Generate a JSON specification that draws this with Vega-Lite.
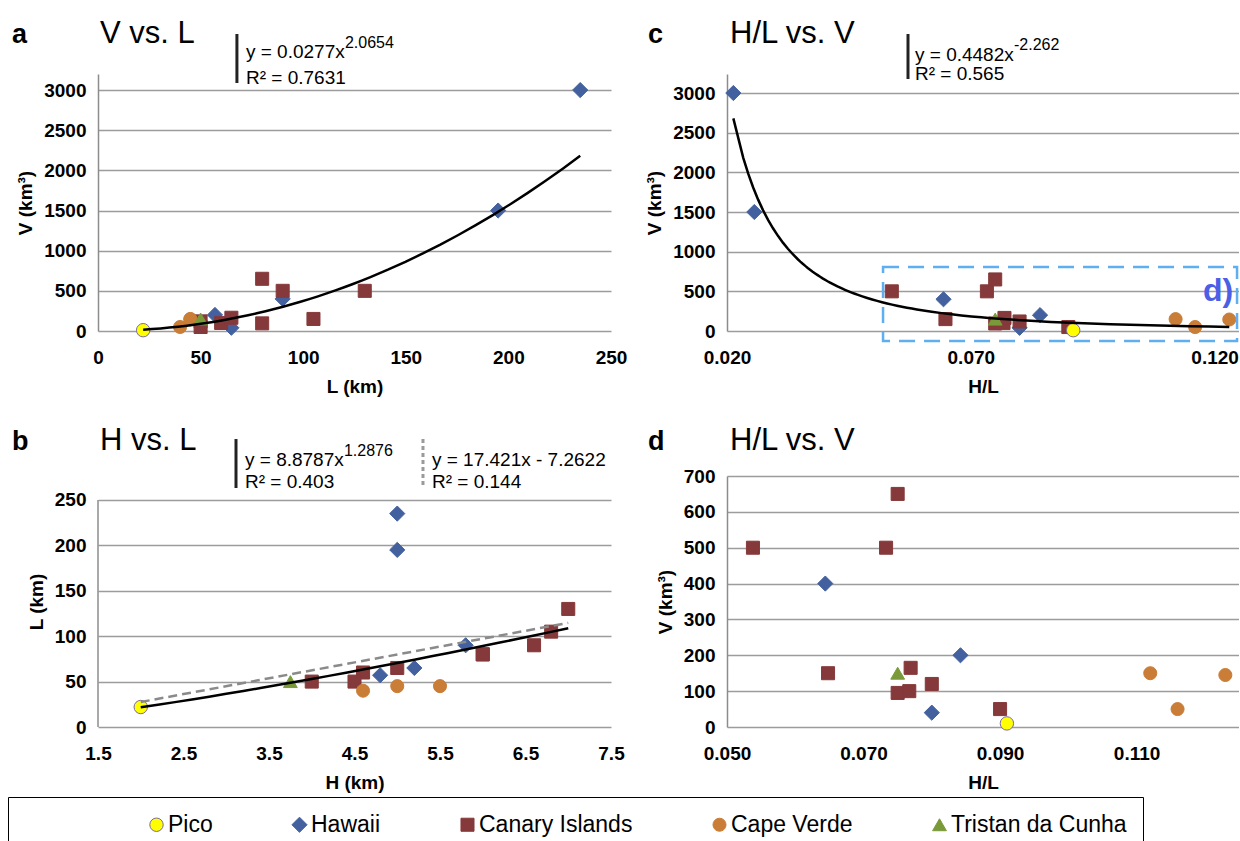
{
  "$schema": "https://vega.github.io/schema/vega-lite/v6.json",
  "autosize": {"type": "pad"},
  "padding": {"left": 7, "top": 17, "right": 0, "bottom": 0},
  "background": "white",
  "datasets": {
    "volcanoes": [
      {"series": "Hawaii", "H": 5.0, "L": 235, "V": 3000, "HL": 0.0213},
      {"series": "Hawaii", "H": 5.0, "L": 195, "V": 1500, "HL": 0.0256},
      {"series": "Hawaii", "H": 5.8, "L": 90, "V": 400, "HL": 0.0644},
      {"series": "Hawaii", "H": 5.2, "L": 65, "V": 40, "HL": 0.0800},
      {"series": "Hawaii", "H": 4.8, "L": 57, "V": 200, "HL": 0.0842},
      {"series": "Canary Islands", "H": 7.0, "L": 130, "V": 500, "HL": 0.0538},
      {"series": "Canary Islands", "H": 6.8, "L": 105, "V": 150, "HL": 0.0648},
      {"series": "Canary Islands", "H": 6.6, "L": 90, "V": 500, "HL": 0.0733},
      {"series": "Canary Islands", "H": 6.0, "L": 80, "V": 650, "HL": 0.0750},
      {"series": "Canary Islands", "H": 6.0, "L": 80, "V": 95, "HL": 0.0750},
      {"series": "Canary Islands", "H": 4.6, "L": 60, "V": 100, "HL": 0.0767},
      {"series": "Canary Islands", "H": 5.0, "L": 65, "V": 165, "HL": 0.0769},
      {"series": "Canary Islands", "H": 4.0, "L": 50, "V": 120, "HL": 0.0800},
      {"series": "Canary Islands", "H": 4.5, "L": 50, "V": 50, "HL": 0.0900},
      {"series": "Cape Verde", "H": 4.6, "L": 40, "V": 50, "HL": 0.1160},
      {"series": "Cape Verde", "H": 5.0, "L": 45, "V": 150, "HL": 0.1120},
      {"series": "Cape Verde", "H": 5.5, "L": 45, "V": 145, "HL": 0.1230},
      {"series": "Tristan da Cunha", "H": 3.75, "L": 50, "V": 150, "HL": 0.0750},
      {"series": "Pico", "H": 2.0, "L": 22, "V": 10, "HL": 0.0910}
    ]
  },
  "columns": 2,
  "bounds": "flush",
  "spacing": {"row": 145, "column": 116},
  "concat": [
    {
      "width": 513,
      "height": 257,
      "layer": [
        {
          "data": {"name": "volcanoes"},
          "mark": {"type": "point", "filled": true, "opacity": 1, "strokeWidth": 1},
          "encoding": {
            "x": {"field": "L", "type": "quantitative", "scale": {"domain": [0, 250], "nice": false, "zero": false}, "axis": {"title": "L (km)", "values": [0, 50, 100, 150, 200, 250], "format": "d"}},
            "y": {"field": "V", "type": "quantitative", "scale": {"domain": [0, 3200], "nice": false}, "axis": {"title": "V (km³)", "values": [0, 500, 1000, 1500, 2000, 2500, 3000], "format": "d"}},
            "color": {"field": "series", "type": "nominal", "title": " ", "scale": {"domain": ["Pico", "Hawaii", "Canary Islands", "Cape Verde", "Tristan da Cunha"], "range": ["#ffff00", "#44619f", "#86393a", "#c97d36", "#7a9a3a"]}, "legend": {"orient": "none", "legendX": -90, "legendY": 723, "direction": "horizontal", "columns": 5, "columnPadding": 75, "padding": 16, "strokeColor": "black", "labelFont": "Liberation Sans", "labelFontSize": 23, "labelColor": "black", "labelLimit": 600, "labelOffset": 0, "titleOrient": "left", "titlePadding": 121, "titleFontSize": 1, "symbolStrokeWidth": 1, "encode": {"legend": {"update": {"strokeWidth": {"value": 2.5}}}}}},
            "shape": {"field": "series", "type": "nominal", "title": " ", "scale": {"domain": ["Pico", "Hawaii", "Canary Islands", "Cape Verde", "Tristan da Cunha"], "range": ["circle", "diamond", "square", "circle", "triangle-up"]}},
            "stroke": {"field": "series", "type": "nominal", "title": " ", "scale": {"domain": ["Pico", "Hawaii", "Canary Islands", "Cape Verde", "Tristan da Cunha"], "range": ["#7a6aa6", "#44619f", "#86393a", "#c97d36", "#7a9a3a"]}},
            "size": {"field": "series", "type": "nominal", "title": " ", "scale": {"type": "ordinal", "domain": ["Pico", "Hawaii", "Canary Islands", "Cape Verde", "Tristan da Cunha"], "range": [180, 230, 170, 170, 190]}}
          }
        },
        {
          "data": {"name": "volcanoes"},
          "transform": [{"regression": "V", "on": "L", "method": "pow"}],
          "mark": {"type": "line", "color": "black", "strokeWidth": 2.5},
          "encoding": {"x": {"field": "L", "type": "quantitative"}, "y": {"field": "V", "type": "quantitative"}}
        },
        {"data": {"values": [{"k": 1}]}, "mark": {"type": "text", "text": "a", "fontSize": 27, "fontWeight": "bold"}, "encoding": {"x": {"datum": -41.9}, "y": {"datum": 3586}}},
        {"data": {"values": [{"k": 1}]}, "mark": {"type": "text", "text": "V vs. L", "fontSize": 31}, "encoding": {"x": {"datum": 1}, "y": {"datum": 3586}}},
        {"data": {"values": [{"k": 1}]}, "mark": {"type": "rule", "color": "#222222", "strokeWidth": 3}, "encoding": {"x": {"datum": 67.7}, "y": {"datum": 3698}, "y2": {"datum": 3088}}},
        {"data": {"values": [{"k": 1}]}, "mark": {"type": "text", "text": "y = 0.0277x", "fontSize": 19}, "encoding": {"x": {"datum": 72.1}, "y": {"datum": 3399}}},
        {"data": {"values": [{"k": 1}]}, "mark": {"type": "text", "text": "2.0654", "fontSize": 16, "dx": 99, "dy": -10}, "encoding": {"x": {"datum": 72.1}, "y": {"datum": 3399}}},
        {"data": {"values": [{"k": 1}]}, "mark": {"type": "text", "text": "R² = 0.7631", "fontSize": 19}, "encoding": {"x": {"datum": 72.1}, "y": {"datum": 3075}}}
      ]
    },
    {
      "width": 512,
      "height": 257,
      "layer": [
        {
          "data": {"name": "volcanoes"},
          "mark": {"type": "point", "filled": true, "opacity": 1, "strokeWidth": 1},
          "encoding": {
            "x": {"field": "HL", "type": "quantitative", "scale": {"domain": [0.02, 0.125], "nice": false, "zero": false}, "axis": {"title": "H/L", "values": [0.02, 0.07, 0.12], "format": ".3f"}},
            "y": {"field": "V", "type": "quantitative", "scale": {"domain": [0, 3240], "nice": false}, "axis": {"title": "V (km³)", "values": [0, 500, 1000, 1500, 2000, 2500, 3000], "format": "d"}},
            "color": {"field": "series", "type": "nominal", "title": " ", "scale": {"domain": ["Pico", "Hawaii", "Canary Islands", "Cape Verde", "Tristan da Cunha"], "range": ["#ffff00", "#44619f", "#86393a", "#c97d36", "#7a9a3a"]}},
            "shape": {"field": "series", "type": "nominal", "title": " ", "scale": {"domain": ["Pico", "Hawaii", "Canary Islands", "Cape Verde", "Tristan da Cunha"], "range": ["circle", "diamond", "square", "circle", "triangle-up"]}},
            "stroke": {"field": "series", "type": "nominal", "title": " ", "scale": {"domain": ["Pico", "Hawaii", "Canary Islands", "Cape Verde", "Tristan da Cunha"], "range": ["#7a6aa6", "#44619f", "#86393a", "#c97d36", "#7a9a3a"]}},
            "size": {"field": "series", "type": "nominal", "title": " ", "scale": {"type": "ordinal", "domain": ["Pico", "Hawaii", "Canary Islands", "Cape Verde", "Tristan da Cunha"], "range": [180, 230, 170, 170, 190]}}
          }
        },
        {
          "data": {"name": "volcanoes"},
          "transform": [{"regression": "V", "on": "HL", "method": "pow"}],
          "mark": {"type": "line", "color": "black", "strokeWidth": 2.5},
          "encoding": {"x": {"field": "HL", "type": "quantitative"}, "y": {"field": "V", "type": "quantitative"}}
        },
        {"data": {"values": [{"k": 1}]}, "mark": {"type": "rect", "fill": "transparent", "stroke": "#5eaef0", "strokeWidth": 2.5, "strokeDash": [16, 9]}, "encoding": {"x": {"datum": 0.052}, "x2": {"datum": 0.1246}, "y": {"datum": -126}, "y2": {"datum": 807}}},
        {"data": {"values": [{"k": 1}]}, "mark": {"type": "text", "text": "d)", "fontSize": 32, "fontWeight": "bold", "color": "#4a5ee6", "align": "right"}, "encoding": {"x": {"datum": 0.1238}, "y": {"datum": 378}}},
        {"data": {"values": [{"k": 1}]}, "mark": {"type": "text", "text": "c", "fontSize": 27, "fontWeight": "bold"}, "encoding": {"x": {"datum": 0.0038}, "y": {"datum": 3631}}},
        {"data": {"values": [{"k": 1}]}, "mark": {"type": "text", "text": "H/L vs. V", "fontSize": 31}, "encoding": {"x": {"datum": 0.02062}, "y": {"datum": 3631}}},
        {"data": {"values": [{"k": 1}]}, "mark": {"type": "rule", "color": "#222222", "strokeWidth": 3}, "encoding": {"x": {"datum": 0.05712}, "y": {"datum": 3744}, "y2": {"datum": 3177}}},
        {"data": {"values": [{"k": 1}]}, "mark": {"type": "text", "text": "y = 0.4482x", "fontSize": 19}, "encoding": {"x": {"datum": 0.05855}, "y": {"datum": 3404}}},
        {"data": {"values": [{"k": 1}]}, "mark": {"type": "text", "text": "-2.262", "fontSize": 16, "dx": 99, "dy": -11}, "encoding": {"x": {"datum": 0.05855}, "y": {"datum": 3404}}},
        {"data": {"values": [{"k": 1}]}, "mark": {"type": "text", "text": "R² = 0.565", "fontSize": 19}, "encoding": {"x": {"datum": 0.05855}, "y": {"datum": 3164}}}
      ]
    },
    {
      "width": 513,
      "height": 251,
      "layer": [
        {
          "data": {"name": "volcanoes"},
          "mark": {"type": "point", "filled": true, "opacity": 1, "strokeWidth": 1},
          "encoding": {
            "x": {"field": "H", "type": "quantitative", "scale": {"domain": [1.5, 7.5], "nice": false, "zero": false}, "axis": {"title": "H (km)", "values": [1.5, 2.5, 3.5, 4.5, 5.5, 6.5, 7.5], "format": ".1f"}},
            "y": {"field": "L", "type": "quantitative", "scale": {"domain": [0, 276.4], "nice": false}, "axis": {"title": "L (km)", "values": [0, 50, 100, 150, 200, 250], "format": "d", "domain": false}},
            "color": {"field": "series", "type": "nominal", "title": " ", "scale": {"domain": ["Pico", "Hawaii", "Canary Islands", "Cape Verde", "Tristan da Cunha"], "range": ["#ffff00", "#44619f", "#86393a", "#c97d36", "#7a9a3a"]}},
            "shape": {"field": "series", "type": "nominal", "title": " ", "scale": {"domain": ["Pico", "Hawaii", "Canary Islands", "Cape Verde", "Tristan da Cunha"], "range": ["circle", "diamond", "square", "circle", "triangle-up"]}},
            "stroke": {"field": "series", "type": "nominal", "title": " ", "scale": {"domain": ["Pico", "Hawaii", "Canary Islands", "Cape Verde", "Tristan da Cunha"], "range": ["#7a6aa6", "#44619f", "#86393a", "#c97d36", "#7a9a3a"]}},
            "size": {"field": "series", "type": "nominal", "title": " ", "scale": {"type": "ordinal", "domain": ["Pico", "Hawaii", "Canary Islands", "Cape Verde", "Tristan da Cunha"], "range": [180, 230, 170, 170, 190]}}
          }
        },
        {"data": {"values": [{"k": 1}]}, "mark": {"type": "rule", "color": "#8c8c8c", "strokeWidth": 1.5}, "encoding": {"x": {"datum": 1.5}, "y": {"datum": 0}, "y2": {"datum": 250}}},
        {
          "data": {"name": "volcanoes"},
          "transform": [{"regression": "L", "on": "H", "method": "linear"}],
          "mark": {"type": "line", "color": "#8a8a8a", "strokeWidth": 2.5, "strokeDash": [9, 5]},
          "encoding": {"x": {"field": "H", "type": "quantitative"}, "y": {"field": "L", "type": "quantitative"}}
        },
        {
          "data": {"name": "volcanoes"},
          "transform": [{"regression": "L", "on": "H", "method": "pow"}],
          "mark": {"type": "line", "color": "black", "strokeWidth": 2.5},
          "encoding": {"x": {"field": "H", "type": "quantitative"}, "y": {"field": "L", "type": "quantitative"}}
        },
        {"data": {"values": [{"k": 1}]}, "mark": {"type": "text", "text": "b", "fontSize": 27, "fontWeight": "bold"}, "encoding": {"x": {"datum": 0.494}, "y": {"datum": 305}}},
        {"data": {"values": [{"k": 1}]}, "mark": {"type": "text", "text": "H vs. L", "fontSize": 31}, "encoding": {"x": {"datum": 1.523}, "y": {"datum": 305}}},
        {"data": {"values": [{"k": 1}]}, "mark": {"type": "rule", "color": "#222222", "strokeWidth": 3}, "encoding": {"x": {"datum": 3.114}, "y": {"datum": 317.1}, "y2": {"datum": 263.2}}},
        {"data": {"values": [{"k": 1}]}, "mark": {"type": "text", "text": "y = 8.8787x", "fontSize": 19}, "encoding": {"x": {"datum": 3.219}, "y": {"datum": 287.4}}},
        {"data": {"values": [{"k": 1}]}, "mark": {"type": "text", "text": "1.2876", "fontSize": 16, "dx": 99, "dy": -10}, "encoding": {"x": {"datum": 3.219}, "y": {"datum": 287.4}}},
        {"data": {"values": [{"k": 1}]}, "mark": {"type": "text", "text": "R² = 0.403", "fontSize": 19}, "encoding": {"x": {"datum": 3.219}, "y": {"datum": 263.2}}},
        {"data": {"values": [{"k": 1}]}, "mark": {"type": "rule", "color": "#9a9a9a", "strokeWidth": 3, "strokeDash": [4, 3]}, "encoding": {"x": {"datum": 5.301}, "y": {"datum": 317.1}, "y2": {"datum": 263.2}}},
        {"data": {"values": [{"k": 1}]}, "mark": {"type": "text", "text": "y = 17.421x - 7.2622", "fontSize": 19}, "encoding": {"x": {"datum": 5.406}, "y": {"datum": 287.4}}},
        {"data": {"values": [{"k": 1}]}, "mark": {"type": "text", "text": "R² = 0.144", "fontSize": 19}, "encoding": {"x": {"datum": 5.406}, "y": {"datum": 263.2}}}
      ]
    },
    {
      "width": 512,
      "height": 251,
      "layer": [
        {
          "data": {"name": "volcanoes"},
          "transform": [{"filter": "datum.HL >= 0.05"}],
          "mark": {"type": "point", "filled": true, "opacity": 1, "strokeWidth": 1},
          "encoding": {
            "x": {"field": "HL", "type": "quantitative", "scale": {"domain": [0.05, 0.125], "nice": false, "zero": false}, "axis": {"title": "H/L", "values": [0.05, 0.07, 0.09, 0.11], "format": ".3f"}},
            "y": {"field": "V", "type": "quantitative", "scale": {"domain": [0, 700], "nice": false}, "axis": {"title": "V (km³)", "values": [0, 100, 200, 300, 400, 500, 600, 700], "tickCount": 8, "format": "d"}},
            "color": {"field": "series", "type": "nominal", "title": " ", "scale": {"domain": ["Pico", "Hawaii", "Canary Islands", "Cape Verde", "Tristan da Cunha"], "range": ["#ffff00", "#44619f", "#86393a", "#c97d36", "#7a9a3a"]}},
            "shape": {"field": "series", "type": "nominal", "title": " ", "scale": {"domain": ["Pico", "Hawaii", "Canary Islands", "Cape Verde", "Tristan da Cunha"], "range": ["circle", "diamond", "square", "circle", "triangle-up"]}},
            "stroke": {"field": "series", "type": "nominal", "title": " ", "scale": {"domain": ["Pico", "Hawaii", "Canary Islands", "Cape Verde", "Tristan da Cunha"], "range": ["#7a6aa6", "#44619f", "#86393a", "#c97d36", "#7a9a3a"]}},
            "size": {"field": "series", "type": "nominal", "title": " ", "scale": {"type": "ordinal", "domain": ["Pico", "Hawaii", "Canary Islands", "Cape Verde", "Tristan da Cunha"], "range": [180, 230, 170, 170, 190]}}
          }
        },
        {"data": {"values": [{"k": 1}]}, "mark": {"type": "text", "text": "d", "fontSize": 27, "fontWeight": "bold"}, "encoding": {"x": {"datum": 0.03843, "axis": {"title": "H/L", "values": [0.05, 0.07, 0.09, 0.11], "format": ".3f"}}, "y": {"datum": 772.5, "axis": {"title": "V (km³)", "values": [0, 100, 200, 300, 400, 500, 600, 700], "tickCount": 8, "format": "d"}}}},
        {"data": {"values": [{"k": 1}]}, "mark": {"type": "text", "text": "H/L vs. V", "fontSize": 31}, "encoding": {"x": {"datum": 0.05044, "axis": {"title": "H/L", "values": [0.05, 0.07, 0.09, 0.11], "format": ".3f"}}, "y": {"datum": 772.5, "axis": {"title": "V (km³)", "values": [0, 100, 200, 300, 400, 500, 600, 700], "tickCount": 8, "format": "d"}}}}
      ]
    }
  ],
  "config": {
    "font": "Liberation Sans",
    "view": {"stroke": null},
    "text": {"font": "Liberation Sans", "align": "left", "baseline": "alphabetic", "color": "black"},
    "axis": {
      "labelFont": "Liberation Sans",
      "labelFontSize": 19,
      "labelFontWeight": "bold",
      "labelColor": "black",
      "labelFlush": false,
      "labelOverlap": false,
      "titleFont": "Liberation Sans",
      "titleFontSize": 19,
      "titleFontWeight": "bold",
      "titleColor": "black",
      "ticks": false,
      "tickSize": 0,
      "domainColor": "#8c8c8c",
      "domainWidth": 1.5,
      "gridColor": "#9c9c9c",
      "gridWidth": 1.5
    },
    "axisX": {"grid": false, "domain": false, "labelPadding": 17, "titlePadding": 10},
    "axisY": {"grid": true, "labelPadding": 12, "titlePadding": 8}
  }
}
